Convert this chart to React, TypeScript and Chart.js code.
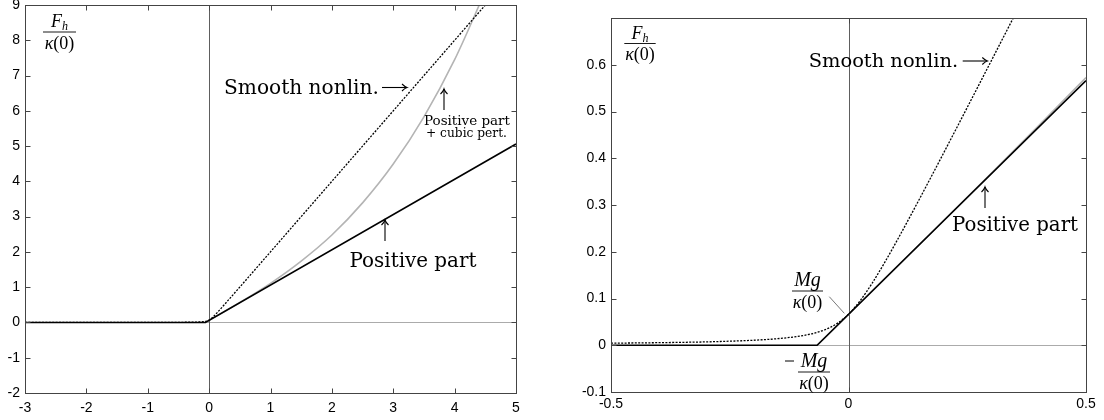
import React, { useEffect, useRef } from "react";
import { Chart, registerables } from "chart.js";
Chart.register(...registerables);

// ---------- Left panel data ----------
const leftXTicks = [-3, -2, -1, 0, 1, 2, 3, 4, 5];
const leftYTicks = [-2, -1, 0, 1, 2, 3, 4, 5, 6, 7, 8, 9];
const leftPosX = [-3, -0.06, 5];
const leftPosY = [0, 0, 5.06];
const leftCubicX = [-0.06, 0, 0.5, 1, 1.5, 2, 2.5, 3, 3.5, 4, 4.5];
const leftCubicY = [0, 0.06, 0.567, 1.11, 1.74, 2.48, 3.39, 4.49, 5.83, 7.45, 9.39];
const leftSmoothX = [-3, -2, -1, -0.5, -0.3, -0.2, -0.1, -0.05, 0, 0.05, 0.1, 0.25, 0.5, 1, 2, 3, 4, 4.6];
const leftSmoothY = [0.001, 0.001, 0.002, 0.004, 0.007, 0.011, 0.02, 0.033, 0.066, 0.133, 0.22, 0.509, 1.004, 2.002, 4.001, 6.0, 8.0, 9.2];

// ---------- Right panel data ----------
const rightXTicks = [-0.5, 0, 0.5];
const rightYTicks = [-0.1, 0, 0.1, 0.2, 0.3, 0.4, 0.5, 0.6];
const rightPosX = [-0.5, -0.066, 0.5];
const rightPosY = [0, 0, 0.566];
const rightCubicX = [-0.066, 0, 0.1, 0.2, 0.3, 0.4, 0.5];
const rightCubicY = [0, 0.066, 0.166, 0.2664, 0.3674, 0.4694, 0.5726];
const rightSmoothX = [-0.5, -0.4, -0.3, -0.25, -0.2, -0.15, -0.1, -0.075, -0.05, -0.025, 0, 0.025, 0.05, 0.075, 0.1, 0.15, 0.2, 0.25, 0.3, 0.35, 0.4];
const rightSmoothY = [0.0044, 0.0055, 0.0072, 0.0087, 0.0107, 0.014, 0.02, 0.0251, 0.0331, 0.0459, 0.0663, 0.0959, 0.1331, 0.1751, 0.22, 0.314, 0.4107, 0.5087, 0.6073, 0.7062, 0.805];

const MATH = '"Liberation Serif", "Times New Roman", serif';
const TEXT = '"DejaVu Serif", serif';
const SANS = '"Liberation Sans", Arial, sans-serif';
const I18 = `italic 18px ${MATH}`;
const I20 = `italic 20px ${MATH}`;
const I12 = `italic 12px ${MATH}`;
const R18 = `18px ${MATH}`;

function pts(xs: number[], ys: number[]) {
  return xs.map((x, i) => ({ x, y: ys[i] }));
}

function line(ctx: CanvasRenderingContext2D, x1: number, y1: number, x2: number, y2: number) {
  ctx.beginPath();
  ctx.moveTo(x1, y1);
  ctx.lineTo(x2, y2);
  ctx.stroke();
}

function seq(ctx: CanvasRenderingContext2D, pieces: [string, string, number][], x: number, baseline: number) {
  let total = 0;
  for (const [t, f] of pieces) {
    ctx.font = f;
    total += ctx.measureText(t).width;
  }
  let cx = x - total / 2;
  ctx.textAlign = "left";
  ctx.textBaseline = "alphabetic";
  for (const [t, f, dy] of pieces) {
    ctx.font = f;
    ctx.fillText(t, cx, baseline + dy);
    cx += ctx.measureText(t).width;
  }
}

function frac(ctx: CanvasRenderingContext2D, cx: number, barY: number, halfW: number,
  num: [string, string, number][], den: [string, string, number][]) {
  seq(ctx, num, cx, barY - 5);
  ctx.lineWidth = 0.9;
  line(ctx, cx - halfW, barY, cx + halfW, barY);
  seq(ctx, den, cx, barY + 16.5);
}

function fitText(ctx: CanvasRenderingContext2D, text: string, x: number, baseline: number, width: number) {
  ctx.font = `20px ${TEXT}`;
  const w = ctx.measureText(text).width;
  const size = (20 * width) / w;
  ctx.font = `${size.toFixed(2)}px ${TEXT}`;
  ctx.textAlign = "left";
  ctx.textBaseline = "alphabetic";
  ctx.fillText(text, x, baseline);
}

function arrowRight(ctx: CanvasRenderingContext2D, x1: number, x2: number, y: number) {
  ctx.lineWidth = 1.1;
  line(ctx, x1, y, x2, y);
  ctx.beginPath();
  ctx.moveTo(x2 - 5, y - 3.5);
  ctx.quadraticCurveTo(x2 - 2, y - 0.6, x2, y);
  ctx.quadraticCurveTo(x2 - 2, y + 0.6, x2 - 5, y + 3.5);
  ctx.stroke();
}

function arrowUp(ctx: CanvasRenderingContext2D, x: number, yBottom: number, yTip: number) {
  ctx.lineWidth = 1.1;
  line(ctx, x, yBottom, x, yTip);
  ctx.beginPath();
  ctx.moveTo(x - 3.5, yTip + 5);
  ctx.quadraticCurveTo(x - 0.6, yTip + 2, x, yTip);
  ctx.quadraticCurveTo(x + 0.6, yTip + 2, x + 3.5, yTip + 5);
  ctx.stroke();
}

function makePlugin(xTicks: number[], yTicks: number[], annotate: (ctx: CanvasRenderingContext2D) => void) {
  return {
    id: "frame",
    beforeDatasetsDraw(chart: any) {
      const { ctx, chartArea: a, scales } = chart;
      const y0 = Math.round(scales.y.getPixelForValue(0)) + 0.5;
      const x0 = Math.round(scales.x.getPixelForValue(0)) + 0.5;
      ctx.save();
      ctx.lineWidth = 1;
      ctx.strokeStyle = "#ababab";
      line(ctx, a.left, y0, a.right, y0);
      ctx.strokeStyle = "#5e5e5e";
      line(ctx, x0, a.top, x0, a.bottom);
      ctx.restore();
    },
    afterDatasetsDraw(chart: any) {
      const { ctx, chartArea: a, scales } = chart;
      ctx.save();
      ctx.lineWidth = 1;
      ctx.strokeStyle = "#444";
      const L = Math.round(a.left) + 0.5, R = Math.round(a.right) + 0.5;
      const T = Math.round(a.top) + 0.5, B = Math.round(a.bottom) + 0.5;
      ctx.strokeRect(L, T, R - L, B - T);
      for (const v of xTicks) {
        const px = Math.round(scales.x.getPixelForValue(v)) + 0.5;
        line(ctx, px, B, px, B - 5);
        line(ctx, px, T, px, T + 5);
      }
      for (const v of yTicks) {
        const py = Math.round(scales.y.getPixelForValue(v)) + 0.5;
        line(ctx, L, py, L + 5, py);
        line(ctx, R, py, R - 5, py);
      }
      ctx.fillStyle = "#000";
      ctx.strokeStyle = "#000";
      annotate(ctx);
      ctx.restore();
    },
  };
}

function makeConfig(opts: {
  xMin: number; xMax: number; yMin: number; yMax: number;
  xTicks: number[]; yTicks: number[];
  yWidth: number; xHeight: number; padTop: number; padRight: number; xPad: number; yPad: number;
  cubic: { x: number; y: number }[]; pos: { x: number; y: number }[]; smooth: { x: number; y: number }[];
  annotate: (ctx: CanvasRenderingContext2D) => void;
}): any {
  const tickFont = { family: SANS, size: 14 };
  return {
    type: "scatter",
    data: {
      datasets: [
        {
          label: "Positive part + cubic pert.",
          data: opts.cubic, showLine: true, pointRadius: 0, borderColor: "#b4b4b4",
          borderWidth: 1.6, cubicInterpolationMode: "monotone", order: 3,
        },
        {
          label: "Positive part",
          data: opts.pos, showLine: true, pointRadius: 0, borderColor: "#000",
          borderWidth: 1.6, order: 2,
        },
        {
          label: "Smooth nonlin.",
          data: opts.smooth, showLine: true, pointRadius: 0, borderColor: "#000",
          borderWidth: 1.3, borderDash: [2, 1.4], cubicInterpolationMode: "monotone", order: 1,
        },
      ],
    },
    options: {
      animation: false,
      responsive: false,
      maintainAspectRatio: false,
      layout: { padding: { top: opts.padTop, right: opts.padRight, left: 0, bottom: 0 } },
      plugins: { legend: { display: false }, tooltip: { enabled: false } },
      scales: {
        x: {
          type: "linear", min: opts.xMin, max: opts.xMax,
          grid: { display: false, drawTicks: false }, border: { display: false },
          ticks: { color: "#000", font: tickFont, padding: opts.xPad, maxRotation: 0, autoSkip: false,
            callback: (v: number) => String(v) },
          afterBuildTicks: (s: any) => { s.ticks = opts.xTicks.map((v) => ({ value: v })); },
          afterFit: (s: any) => { s.height = opts.xHeight; s.paddingLeft = 0; s.paddingRight = 0; },
        },
        y: {
          type: "linear", min: opts.yMin, max: opts.yMax,
          grid: { display: false, drawTicks: false }, border: { display: false },
          ticks: { color: "#000", font: tickFont, padding: opts.yPad, autoSkip: false,
            callback: (v: number) => String(v) },
          afterBuildTicks: (s: any) => { s.ticks = opts.yTicks.map((v) => ({ value: v })); },
          afterFit: (s: any) => { s.width = opts.yWidth; s.paddingTop = 0; s.paddingBottom = 0; },
        },
      },
    },
    plugins: [makePlugin(opts.xTicks, opts.yTicks, opts.annotate)],
  };
}

function annotateLeft(ctx: CanvasRenderingContext2D) {
  frac(ctx, 59.5, 32, 16.5, [["F", I18, 0], ["h", I12, 3]], [["κ", I18, 0], ["(0)", R18, 0]]);
  fitText(ctx, "Smooth nonlin.", 224, 94, 155);
  arrowRight(ctx, 382, 407, 87.5);
  arrowUp(ctx, 444, 110, 89);
  fitText(ctx, "Positive part", 424, 125, 86);
  fitText(ctx, "+ cubic pert.", 426, 137, 81);
  fitText(ctx, "Positive part", 349.5, 267, 127);
  arrowUp(ctx, 385, 241, 220);
}

function annotateRight(ctx: CanvasRenderingContext2D) {
  frac(ctx, 80, 43.5, 15.7, [["F", I18, 0], ["h", I12, 3]], [["κ", I18, 0], ["(0)", R18, 0]]);
  fitText(ctx, "Smooth nonlin.", 248.7, 66.7, 149.6);
  arrowRight(ctx, 402.7, 427.3, 61);
  fitText(ctx, "Positive part", 392, 231, 126);
  arrowUp(ctx, 425, 208, 187);
  frac(ctx, 247.5, 291, 15.5, [["Mg", I20, 0]], [["κ", I18, 0], ["(0)", R18, 0]]);
  ctx.strokeStyle = "#555";
  ctx.lineWidth = 0.8;
  line(ctx, 269.3, 296.7, 284.3, 313.3);
  ctx.strokeStyle = "#000";
  ctx.lineWidth = 1;
  line(ctx, 225, 361, 234, 361);
  frac(ctx, 254, 372, 16, [["Mg", I20, 0]], [["κ", I18, 0], ["(0)", R18, 0]]);
}

function Panel(props: { left: number; width: number; make: () => any }) {
  const ref = useRef<HTMLCanvasElement>(null);
  useEffect(() => {
    const chart = new Chart(ref.current as HTMLCanvasElement, props.make());
    return () => chart.destroy();
  }, []);
  return (
    <canvas
      ref={ref}
      width={props.width}
      height={420}
      style={{ position: "absolute", left: props.left, top: 0, width: props.width, height: 420 }}
    />
  );
}

export default function App() {
  const makeLeft = () =>
    makeConfig({
      xMin: -3, xMax: 5, yMin: -2, yMax: 9, xTicks: leftXTicks, yTicks: leftYTicks,
      yWidth: 25, xHeight: 27, padTop: 5, padRight: 24, xPad: 7, yPad: 5,
      cubic: pts(leftCubicX, leftCubicY), pos: pts(leftPosX, leftPosY), smooth: pts(leftSmoothX, leftSmoothY),
      annotate: annotateLeft,
    });
  const makeRight = () =>
    makeConfig({
      xMin: -0.5, xMax: 0.5, yMin: -0.1, yMax: 0.7, xTicks: rightXTicks, yTicks: rightYTicks,
      yWidth: 51, xHeight: 28, padTop: 18, padRight: 18, xPad: 4, yPad: 5,
      cubic: pts(rightCubicX, rightCubicY), pos: pts(rightPosX, rightPosY), smooth: pts(rightSmoothX, rightSmoothY),
      annotate: annotateRight,
    });
  return (
    <div style={{ position: "absolute", left: 0, top: 0, width: 1104, height: 420, background: "#fff" }}>
      <Panel left={0} width={540} make={makeLeft} />
      <Panel left={560} width={544} make={makeRight} />
    </div>
  );
}
